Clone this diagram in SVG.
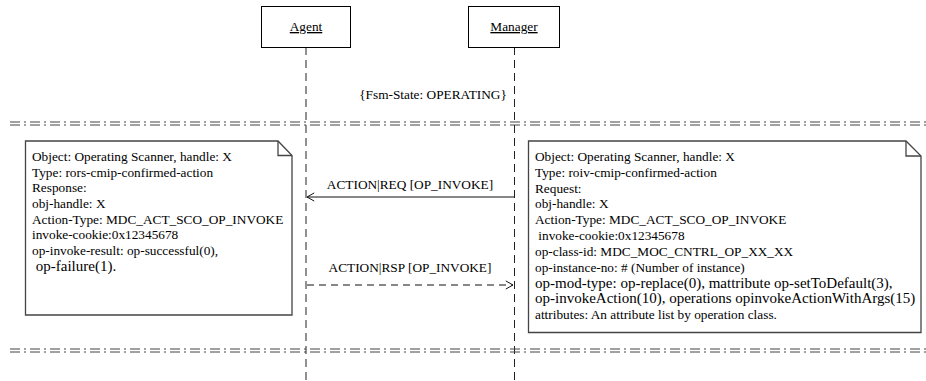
<svg xmlns="http://www.w3.org/2000/svg" width="926" height="381" viewBox="0 0 926 381">
<style>
text{font-family:"Liberation Serif","Times New Roman",serif;font-size:13.3px;fill:#000}
.obj{fill:#fff;stroke:#000;stroke-width:1}
.life{stroke:#222;stroke-width:1;stroke-dasharray:8 5;fill:none}
.sep{stroke:#444;stroke-width:1;stroke-dasharray:10 4 2 4;fill:none}
.note{fill:#fff;stroke:#444;stroke-width:1.3}
.fold{fill:none;stroke:#444;stroke-width:1.3}
.msg{stroke:#111;stroke-width:1;fill:none}
.dash{stroke-dasharray:7 5}
.big{font-size:15px}
.c{text-anchor:middle}
</style>
<defs>
<marker id="open" viewBox="0 0 10 10" refX="9" refY="5" markerWidth="9" markerHeight="11" orient="auto" markerUnits="userSpaceOnUse">
<path d="M1,0.5 L9,5 L1,9.5" fill="none" stroke="#111" stroke-width="1.1"/>
</marker>
</defs>

<g id="lifelines">
<line class="life" x1="306" y1="47" x2="306" y2="381"/>
<line class="life" x1="514.5" y1="47" x2="514.5" y2="381"/>
</g>

<g id="agent">
<rect class="obj" x="261.5" y="6.5" width="89" height="41"/>
<text class="c" x="306" y="31" text-decoration="underline">Agent</text>
</g>
<g id="manager">
<rect class="obj" x="468.5" y="6.5" width="91" height="41"/>
<text class="c" x="514" y="31" text-decoration="underline">Manager</text>
</g>

<g id="state">
<text class="c" x="433" y="99">{Fsm-State: OPERATING}</text>
</g>

<g id="separators">
<line class="sep" x1="10" y1="122" x2="926" y2="122"/>
<line class="sep" x1="10" y1="125" x2="926" y2="125"/>
<line class="sep" x1="10" y1="349" x2="926" y2="349"/>
<line class="sep" x1="10" y1="352" x2="926" y2="352"/>
</g>

<g id="note-agent">
<path class="note" d="M25.5,141 H278 L292,155.5 V315 H25.5 Z"/>
<path class="fold" d="M278,141 V155.5 H292"/>
<text x="32" y="161">Object: Operating Scanner, handle: X</text>
<text x="32" y="177">Type: rors-cmip-confirmed-action</text>
<text x="32" y="192">Response:</text>
<text x="32" y="208">obj-handle: X</text>
<text x="32" y="224">Action-Type: MDC_ACT_SCO_OP_INVOKE</text>
<text x="32" y="239">invoke-cookie:0x12345678</text>
<text x="32" y="255">op-invoke-result: op-successful(0),</text>
<text class="big" x="32" y="271" xml:space="preserve"> op-failure(1).</text>
</g>

<g id="note-manager">
<path class="note" d="M528.5,141 H906 L921,156 V332.5 H528.5 Z"/>
<path class="fold" d="M906,141 V156 H921"/>
<text x="535" y="161">Object: Operating Scanner, handle: X</text>
<text x="535" y="177">Type: roiv-cmip-confirmed-action</text>
<text x="535" y="193">Request:</text>
<text x="535" y="208">obj-handle: X</text>
<text x="535" y="224">Action-Type: MDC_ACT_SCO_OP_INVOKE</text>
<text x="535" y="240" xml:space="preserve"> invoke-cookie:0x12345678</text>
<text x="535" y="256">op-class-id: MDC_MOC_CNTRL_OP_XX_XX</text>
<text x="535" y="272">op-instance-no: # (Number of instance)</text>
<text class="big" x="535" y="288">op-mod-type: op-replace(0), mattribute op-setToDefault(3),</text>
<text class="big" x="535" y="303">op-invokeAction(10), operations opinvokeActionWithArgs(15)</text>
<text x="535" y="319">attributes: An attribute list by operation class.</text>
</g>

<g id="connectors">
<line class="msg" x1="514" y1="197" x2="307" y2="197" marker-end="url(#open)"/>
<text class="c" x="410" y="189">ACTION|REQ [OP_INVOKE]</text>
<line class="msg dash" x1="307" y1="285" x2="513" y2="285" marker-end="url(#open)"/>
<text class="c" x="410" y="272">ACTION|RSP [OP_INVOKE]</text>
</g>
</svg>
